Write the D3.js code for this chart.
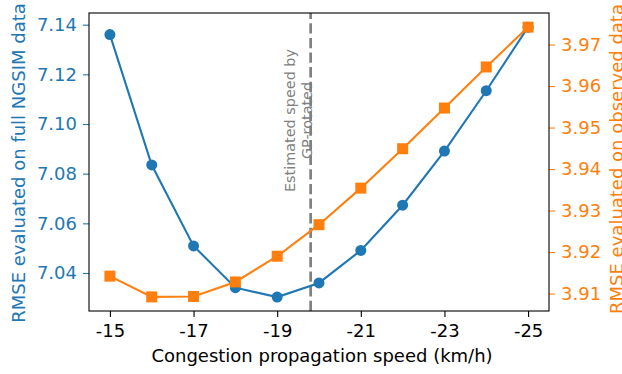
<!DOCTYPE html>
<html>
<head>
<meta charset="utf-8">
<script src="https://cdn.jsdelivr.net/npm/d3@7"></script>
<style>
  body { margin: 0; background: #fff; }
  svg { display: block; font-family: "DejaVu Sans", sans-serif; }
</style>
</head>
<body>
<svg id="chart" width="622" height="374"></svg>
<script>
// data
const speeds = [-15, -16, -17, -18, -19, -20, -21, -22, -23, -24, -25];
const rmseFull = [7.136, 7.0835, 7.0509, 7.0341, 7.0303, 7.036, 7.0491, 7.0673, 7.0891, 7.1134, 7.139];
const rmseObs = [3.9142, 3.9092, 3.9093, 3.9128, 3.919, 3.9266, 3.9354, 3.9449, 3.9547, 3.9646, 3.9742];
const xTicks = [-15, -17, -19, -21, -23, -25];
const leftTicks = [7.04, 7.06, 7.08, 7.10, 7.12, 7.14];
const rightTicks = [3.91, 3.92, 3.93, 3.94, 3.95, 3.96, 3.97];
const estimatedSpeed = -19.8;

const blue = '#1f77b4', orange = '#ff7f0e';
const L = 89, R = 549, T = 13, B = 311;

const svg = d3.select('#chart');

const x = d3.scaleLinear().domain([-14.5, -25.5]).range([L, R]);
const yL = d3.scaleLinear().domain([7.0247, 7.1447]).range([B, T]);
const yR = d3.scaleLinear().domain([3.9058, 3.9776]).range([B, T]);

// axes
const gx = svg.append('g').attr('transform', `translate(0,${B})`)
  .call(d3.axisBottom(x).tickValues(xTicks).tickSize(6).tickPadding(7)
    .tickFormat(d => String(d)));
const gl = svg.append('g').attr('transform', `translate(${L},0)`)
  .call(d3.axisLeft(yL).tickValues(leftTicks).tickSize(6).tickPadding(6)
    .tickFormat(d3.format('.2f')));
const gr = svg.append('g').attr('transform', `translate(${R},0)`)
  .call(d3.axisRight(yR).tickValues(rightTicks).tickSize(6).tickPadding(6)
    .tickFormat(d3.format('.2f')));

[[gx, '#000'], [gl, blue], [gr, orange]].forEach(([g, c]) => {
  g.select('.domain').remove();
  g.selectAll('line').attr('stroke', c).attr('stroke-width', 1.1);
  g.selectAll('text').attr('fill', c).style('font-size', '18px')
    .style('font-family', '"DejaVu Sans", sans-serif');
});

// axis labels
svg.append('text')
  .attr('transform', `translate(${(L + R) / 2 + 3},362)`)
  .attr('text-anchor', 'middle').style('font-size', '18px').attr('fill', '#000')
  .text('Congestion propagation speed (km/h)');
svg.append('text')
  .attr('transform', 'translate(25,163) rotate(-90)')
  .attr('text-anchor', 'middle').style('font-size', '18px').attr('fill', blue)
  .text('RMSE evaluated on full NGSIM data');
svg.append('text')
  .attr('transform', 'translate(623,159) rotate(-90)')
  .attr('text-anchor', 'middle').style('font-size', '18px').attr('fill', orange)
  .text('RMSE evaluated on observed data');

// estimated speed marker
svg.append('line')
  .attr('x1', x(estimatedSpeed)).attr('x2', x(estimatedSpeed))
  .attr('y1', T).attr('y2', B)
  .attr('stroke', '#808080').attr('stroke-width', 2.7)
  .attr('stroke-dasharray', '10.3,4.3').attr('stroke-dashoffset', 4.3);

// series 1
const lineL = d3.line().x((d, i) => x(speeds[i])).y(d => yL(d));
svg.append('path').datum(rmseFull)
  .attr('d', lineL).attr('fill', 'none').attr('stroke', blue).attr('stroke-width', 2.1);
svg.selectAll('circle.full').data(rmseFull).enter().append('circle')
  .attr('class', 'full')
  .attr('cx', (d, i) => x(speeds[i])).attr('cy', d => yL(d))
  .attr('r', 5.5).attr('fill', blue);

// series 2
const lineR = d3.line().x((d, i) => x(speeds[i])).y(d => yR(d));
svg.append('path').datum(rmseObs)
  .attr('d', lineR).attr('fill', 'none').attr('stroke', orange).attr('stroke-width', 2.1);
const sq = 11;
svg.selectAll('rect.obs').data(rmseObs).enter().append('rect')
  .attr('class', 'obs')
  .attr('x', (d, i) => x(speeds[i]) - sq / 2).attr('y', d => yR(d) - sq / 2)
  .attr('width', sq).attr('height', sq).attr('fill', orange);

// annotation
const ann = svg.append('text')
  .attr('transform', `translate(${x(estimatedSpeed) - 15.5},120.5) rotate(-90)`)
  .attr('text-anchor', 'middle').style('font-size', '14.4px').attr('fill', '#808080');
ann.append('tspan').attr('x', 0).attr('dy', 0).text('Estimated speed by');
ann.append('tspan').attr('x', 0).attr('dy', 16.5).text('GP-rotated');

// frame
svg.append('rect')
  .attr('x', L).attr('y', T).attr('width', R - L).attr('height', B - T)
  .attr('fill', 'none').attr('stroke', '#000').attr('stroke-width', 1.1);
</script>
</body>
</html>
